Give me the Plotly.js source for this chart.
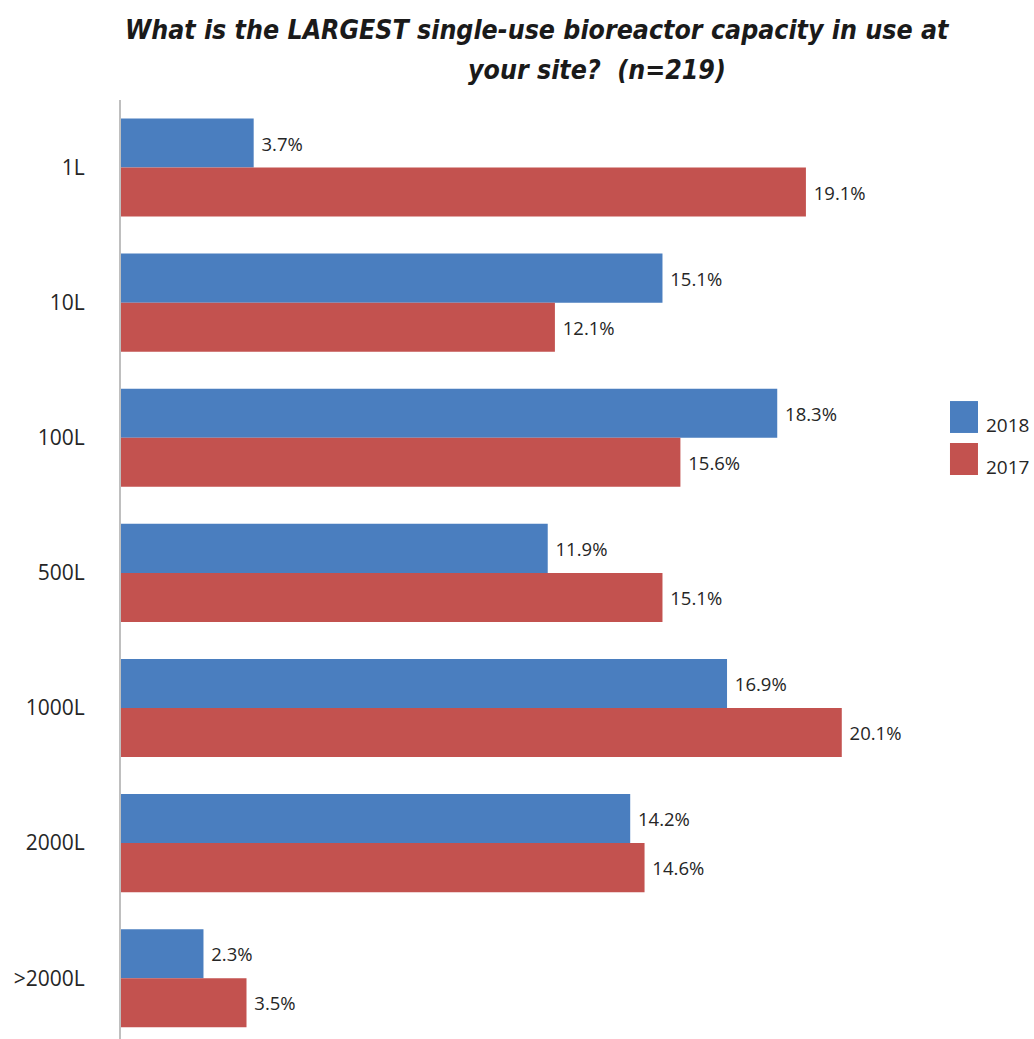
<!DOCTYPE html>
<html>
<head>
<meta charset="utf-8">
<script src="https://cdn.plot.ly/plotly-3.0.1.min.js"></script>
<style>html,body{margin:0;padding:0;background:#fff;}#chart{width:1034px;height:1039px;}</style>
</head>
<body>
<div id="chart"></div>
<script>
const categories = ["1L", "10L", "100L", "500L", "1000L", "2000L", ">2000L"];
const series2018 = [3.7, 15.1, 18.3, 11.9, 16.9, 14.2, 2.3];
const series2017 = [19.1, 12.1, 15.6, 15.1, 20.1, 14.6, 3.5];
const seriesNames = ["2018", "2017"];
const titleLine1 = "What is the LARGEST single-use bioreactor capacity in use at";
const titleLine2 = "your site?  (n=219)";

const colors = ["#4A7EBF", "#C3524F"];
const labelFont = {family: "Open Sans, Noto Sans, sans-serif", size: 18.5, color: "#262626"};
const titleFont = {family: "DejaVu Sans Condensed, Liberation Sans Narrow, sans-serif", size: 26.5, color: "#1a1a1a", weight: 700, style: "italic"};

function barTrace(values, name, color) {
  return {
    type: "bar", orientation: "h",
    y: categories, x: values, name: name,
    marker: {color: color, line: {width: 0}},
    texttemplate: "\u00a0%{x:.1f}%", textposition: "outside",
    textfont: labelFont, cliponaxis: false,
    showlegend: false, hoverinfo: "x+name"
  };
}

const data = [
  barTrace(series2018, seriesNames[0], colors[0]),
  barTrace(series2017, seriesNames[1], colors[1])
];

// legend drawn as paper-positioned swatches
const legendY = [[0.6454, 0.6794], [0.6006, 0.6347]];
const shapes = legendY.map((yy, i) => ({
  type: "rect", xref: "paper", yref: "paper",
  x0: 1.0247, x1: 1.0593, y0: yy[0], y1: yy[1],
  fillcolor: colors[i], line: {width: 0}
}));
const annotations = [
  {text: titleLine2, xref: "paper", yref: "paper", x: 0.588, y: 1.032,
   xanchor: "center", yanchor: "middle", showarrow: false, font: titleFont}
].concat(seriesNames.map((n, i) => ({
  text: n, xref: "paper", yref: "paper", x: 1.0665, y: (legendY[i][0] + legendY[i][1]) / 2 - 0.008,
  xanchor: "left", yanchor: "middle", showarrow: false,
  font: {family: "Open Sans, Noto Sans, sans-serif", size: 19, color: "#262626"}
})));

const layout = {
  width: 1034, height: 1039,
  margin: {l: 121, r: 104, t: 100, b: 0, pad: 0},
  paper_bgcolor: "#ffffff", plot_bgcolor: "#ffffff",
  barmode: "group", bargap: 0.274, bargroupgap: 0,
  title: {text: titleLine1, x: 0.519, xanchor: "center", y: 0.971, yanchor: "middle", font: titleFont},
  xaxis: {range: [0, 22.56], showgrid: false, zeroline: false, showticklabels: false, showline: false, ticks: ""},
  yaxis: {range: [6.45, -0.5], type: "category", showgrid: false, zeroline: false,
          showline: true, linecolor: "#bfbfbf", linewidth: 2, ticks: "",
          ticklabelstandoff: 30,
          tickfont: {family: "Open Sans, Noto Sans, sans-serif", size: 21, color: "#262626"}},
  shapes: shapes,
  annotations: annotations,
  font: {family: "Open Sans, Noto Sans, sans-serif"}
};

Plotly.newPlot("chart", data, layout, {displayModeBar: false, staticPlot: true});
</script>
</body>
</html>
